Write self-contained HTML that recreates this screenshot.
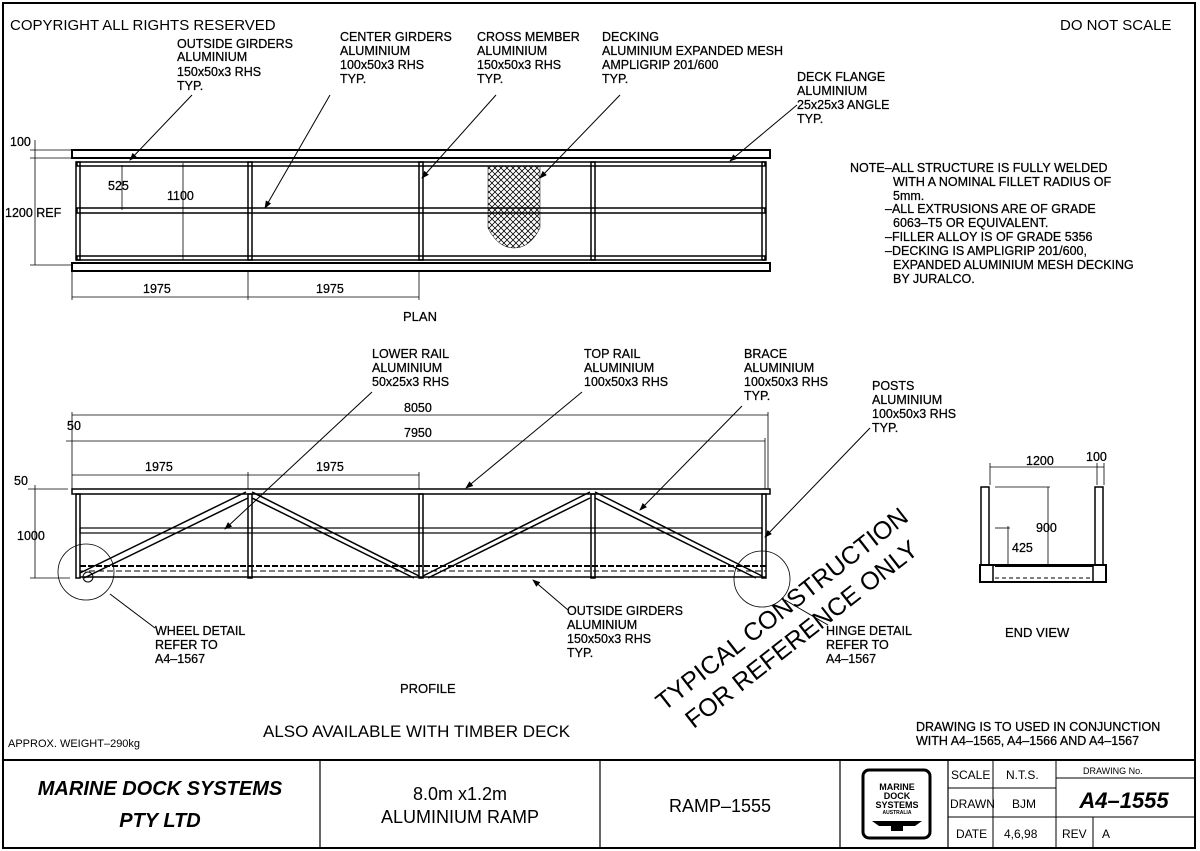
<!DOCTYPE html>
<html><head><meta charset="utf-8"><style>
html,body{margin:0;padding:0;background:#fff}
svg{display:block}
text{font-family:"Liberation Sans",sans-serif;fill:#000}
.t{font-size:12.5px;stroke:#000;stroke-width:0.25}
</style></head><body>
<svg width="1200" height="851" viewBox="0 0 1200 851" xmlns="http://www.w3.org/2000/svg">
<defs>
<marker id="a" markerWidth="8" markerHeight="6" refX="7" refY="3" orient="auto" markerUnits="userSpaceOnUse"><path d="M0,0 L8,3 L0,6z" fill="#000"/></marker>
<pattern id="mesh" width="6" height="6" patternUnits="userSpaceOnUse"><path d="M0,3 L3,0 L6,3 L3,6z" fill="none" stroke="#000" stroke-width="0.8"/></pattern>
</defs>
<rect x="3" y="3" width="1192" height="845" fill="none" stroke="#000" stroke-width="2"/>

<text x="10" y="30" font-size="15">COPYRIGHT ALL RIGHTS RESERVED</text>
<text x="1060" y="30" font-size="15">DO NOT SCALE</text>

<g class="t">
<text x="177" y="48">OUTSIDE GIRDERS</text><text x="177" y="61">ALUMINIUM</text><text x="177" y="76">150x50x3 RHS</text><text x="177" y="90">TYP.</text>
<text x="340" y="41">CENTER GIRDERS</text><text x="340" y="55">ALUMINIUM</text><text x="340" y="69">100x50x3 RHS</text><text x="340" y="83">TYP.</text>
<text x="477" y="41">CROSS MEMBER</text><text x="477" y="55">ALUMINIUM</text><text x="477" y="69">150x50x3 RHS</text><text x="477" y="83">TYP.</text>
<text x="602" y="41">DECKING</text><text x="602" y="55">ALUMINIUM EXPANDED MESH</text><text x="602" y="69">AMPLIGRIP 201/600</text><text x="602" y="83">TYP.</text>
<text x="797" y="81">DECK FLANGE</text><text x="797" y="95">ALUMINIUM</text><text x="797" y="109">25x25x3 ANGLE</text><text x="797" y="123">TYP.</text>
</g>
<g stroke="#000" stroke-width="1" fill="none" marker-end="url(#a)">
<line x1="192" y1="95" x2="130" y2="160"/>
<line x1="330" y1="95" x2="265" y2="208"/>
<line x1="496" y1="95" x2="422" y2="178"/>
<line x1="620" y1="95" x2="540" y2="178"/>
<line x1="797" y1="105" x2="730" y2="161"/>
</g>

<!-- PLAN -->
<g stroke="#000" fill="none">
<rect x="72" y="150" width="698" height="8" stroke-width="2"/>
<rect x="72" y="263" width="698" height="8" stroke-width="2"/>
<rect x="77" y="162" width="688" height="4" stroke-width="1.5"/>
<rect x="77" y="208" width="688" height="5" stroke-width="1.5"/>
<rect x="77" y="256" width="688" height="4" stroke-width="1.5"/>
<rect x="76" y="162" width="4" height="98" stroke-width="1.5"/>
<rect x="248" y="162" width="4" height="98" stroke-width="1.5"/>
<rect x="419" y="162" width="4" height="98" stroke-width="1.5"/>
<rect x="591" y="162" width="4" height="98" stroke-width="1.5"/>
<rect x="762" y="162" width="4" height="98" stroke-width="1.5"/>
</g>
<path d="M488,166 L540,166 L540,228 Q530,248 514,248 Q498,248 488,228 Z" fill="url(#mesh)" stroke="#000" stroke-width="0.5"/>
<g stroke="#000" stroke-width="0.8" fill="none">
<line x1="30" y1="150" x2="72" y2="150"/><line x1="30" y1="158" x2="72" y2="158"/><line x1="30" y1="265" x2="72" y2="265"/>
<line x1="35" y1="140" x2="35" y2="265"/>
<line x1="122" y1="165" x2="122" y2="210"/>
<line x1="183" y1="163" x2="183" y2="260"/>
<line x1="72" y1="272" x2="72" y2="300"/><line x1="248" y1="272" x2="248" y2="300"/><line x1="419" y1="272" x2="419" y2="300"/>
<line x1="72" y1="297" x2="419" y2="297"/>
</g>
<g class="t">
<text x="10" y="146">100</text>
<text x="5" y="217">1200 REF</text>
<text x="108" y="190">525</text>
<text x="167" y="200">1100</text>
<text x="143" y="293">1975</text>
<text x="316" y="293">1975</text>
<text x="403" y="321" font-size="13">PLAN</text>
</g>

<g class="t">
<text x="850" y="172">NOTE–ALL STRUCTURE IS FULLY WELDED</text>
<text x="893" y="186">WITH A NOMINAL FILLET RADIUS OF</text>
<text x="893" y="200">5mm.</text>
<text x="885" y="213">–ALL EXTRUSIONS ARE OF GRADE</text>
<text x="893" y="227">6063–T5 OR EQUIVALENT.</text>
<text x="885" y="241">–FILLER ALLOY IS OF GRADE 5356</text>
<text x="885" y="255">–DECKING IS AMPLIGRIP 201/600,</text>
<text x="893" y="269">EXPANDED ALUMINIUM MESH DECKING</text>
<text x="893" y="283">BY JURALCO.</text>
</g>

<g class="t">
<text x="372" y="358">LOWER RAIL</text><text x="372" y="372">ALUMINIUM</text><text x="372" y="386">50x25x3 RHS</text>
<text x="584" y="358">TOP RAIL</text><text x="584" y="372">ALUMINIUM</text><text x="584" y="386">100x50x3 RHS</text>
<text x="744" y="358">BRACE</text><text x="744" y="372">ALUMINIUM</text><text x="744" y="386">100x50x3 RHS</text><text x="744" y="400">TYP.</text>
<text x="872" y="390">POSTS</text><text x="872" y="404">ALUMINIUM</text><text x="872" y="418">100x50x3 RHS</text><text x="872" y="432">TYP.</text>
<text x="567" y="615">OUTSIDE GIRDERS</text><text x="567" y="629">ALUMINIUM</text><text x="567" y="643">150x50x3 RHS</text><text x="567" y="657">TYP.</text>
<text x="155" y="635">WHEEL DETAIL</text><text x="155" y="649">REFER TO</text><text x="155" y="663">A4–1567</text>
<text x="826" y="635">HINGE DETAIL</text><text x="826" y="649">REFER TO</text><text x="826" y="663">A4–1567</text>
<text x="400" y="693" font-size="13">PROFILE</text>
<text x="1005" y="637" font-size="13">END VIEW</text>
</g>
<g stroke="#000" stroke-width="1" fill="none" marker-end="url(#a)">
<line x1="372" y1="392" x2="225" y2="529"/>
<line x1="582" y1="392" x2="466" y2="488"/>
<line x1="742" y1="406" x2="640" y2="510"/>
<line x1="870" y1="428" x2="765" y2="537"/>
</g>
<g stroke="#000" stroke-width="1" fill="none">
<line x1="568" y1="610" x2="533" y2="580" marker-end="url(#a)"/>
<line x1="155" y1="628" x2="110" y2="594"/>
<line x1="828" y1="625" x2="785" y2="600"/>
</g>

<!-- PROFILE -->
<g stroke="#000" fill="none">
<rect x="72" y="489" width="698" height="5" stroke-width="1.5"/>
<rect x="76" y="494" width="4" height="84" stroke-width="1.5"/>
<rect x="248" y="494" width="4" height="84" stroke-width="1.5"/>
<rect x="419" y="494" width="4" height="84" stroke-width="1.5"/>
<rect x="591" y="494" width="4" height="84" stroke-width="1.5"/>
<rect x="762" y="494" width="4" height="84" stroke-width="1.5"/>
<rect x="80" y="528" width="682" height="5" stroke-width="1.2"/>
<line x1="80" y1="566" x2="766" y2="566" stroke-width="2" stroke-dasharray="6,2"/>
<line x1="80" y1="571" x2="766" y2="571" stroke-width="1" stroke-dasharray="6,3"/>
<line x1="80" y1="577" x2="766" y2="577" stroke-width="1.5"/>
<path d="M80,573 L246,492 M84,578 L248,498" stroke-width="1.5"/>
<path d="M252,492 L419,576 M252,498 L414,578" stroke-width="1.5"/>
<path d="M423,576 L590,492 M428,578 L590,498" stroke-width="1.5"/>
<path d="M595,492 L762,576 M595,498 L756,578" stroke-width="1.5"/>
<circle cx="86" cy="572" r="28" stroke-width="0.8"/>
<circle cx="88" cy="577" r="5" stroke-width="1"/>
<circle cx="762" cy="579" r="28" stroke-width="0.8"/>
</g>
<g stroke="#000" stroke-width="0.8" fill="none">
<line x1="72" y1="412" x2="72" y2="489"/><line x1="768" y1="412" x2="768" y2="489"/>
<line x1="72" y1="415" x2="768" y2="415"/>
<line x1="66" y1="441" x2="765" y2="441"/><line x1="765" y1="438" x2="765" y2="489"/>
<line x1="72" y1="475" x2="419" y2="475"/><line x1="248" y1="472" x2="248" y2="489"/><line x1="419" y1="472" x2="419" y2="489"/>
<line x1="28" y1="489" x2="68" y2="489"/>
<line x1="30" y1="578" x2="70" y2="578"/>
<line x1="35" y1="485" x2="35" y2="578"/>
</g>
<g class="t">
<text x="404" y="412">8050</text>
<text x="404" y="437">7950</text>
<text x="67" y="430">50</text>
<text x="145" y="471">1975</text>
<text x="316" y="471">1975</text>
<text x="14" y="485">50</text>
<text x="17" y="540">1000</text>
</g>

<!-- END VIEW -->
<g stroke="#000" fill="none">
<rect x="981" y="487" width="8" height="78" stroke-width="1.5"/>
<rect x="1095" y="487" width="8" height="78" stroke-width="1.5"/>
<rect x="980" y="565" width="126" height="17" stroke-width="2"/>
<line x1="995" y1="566" x2="1093" y2="566" stroke-width="2"/>
<line x1="995" y1="578" x2="1093" y2="578" stroke-width="1" stroke-dasharray="4,3"/>
<line x1="993" y1="566" x2="993" y2="582" stroke-width="1.5"/>
<line x1="1093" y1="566" x2="1093" y2="582" stroke-width="1.5"/>
</g>
<g stroke="#000" stroke-width="0.8" fill="none">
<line x1="990" y1="467" x2="1104" y2="467"/><line x1="990" y1="463" x2="990" y2="485"/><line x1="1097" y1="463" x2="1097" y2="485"/><line x1="1104" y1="463" x2="1104" y2="485"/>
<line x1="995" y1="487" x2="1050" y2="487"/><line x1="1048" y1="487" x2="1048" y2="565"/>
<line x1="995" y1="528" x2="1010" y2="528"/><line x1="1008" y1="526" x2="1008" y2="565"/>
</g>
<g class="t">
<text x="1026" y="465">1200</text>
<text x="1086" y="461">100</text>
<text x="1036" y="532">900</text>
<text x="1012" y="552">425</text>
</g>

<text transform="translate(792,622) rotate(-38)" font-size="25" text-anchor="middle"><tspan x="0" y="-8">TYPICAL CONSTRUCTION</tspan><tspan x="0" y="24">FOR REFERENCE ONLY</tspan></text>

<text x="8" y="747" font-size="11">APPROX. WEIGHT–290kg</text>
<text x="263" y="737" font-size="17">ALSO AVAILABLE WITH TIMBER DECK</text>
<text x="916" y="731" class="t">DRAWING IS TO USED IN CONJUNCTION</text>
<text x="916" y="745" class="t">WITH A4–1565, A4–1566 AND A4–1567</text>

<!-- TITLE BLOCK -->
<g stroke="#000" fill="none">
<line x1="3" y1="760" x2="1195" y2="760" stroke-width="2"/>
<line x1="320" y1="760" x2="320" y2="848" stroke-width="1.2"/>
<line x1="600" y1="760" x2="600" y2="848" stroke-width="1.2"/>
<line x1="840" y1="760" x2="840" y2="848" stroke-width="1.2"/>
<line x1="948" y1="760" x2="948" y2="848" stroke-width="1.2"/>
<line x1="993" y1="760" x2="993" y2="848" stroke-width="1"/>
<line x1="1056" y1="760" x2="1056" y2="848" stroke-width="1"/>
<line x1="1093" y1="817" x2="1093" y2="848" stroke-width="1"/>
<line x1="948" y1="788" x2="1056" y2="788" stroke-width="1"/>
<line x1="948" y1="817" x2="1195" y2="817" stroke-width="1"/>
<line x1="1056" y1="778" x2="1195" y2="778" stroke-width="1"/>
<rect x="863" y="770" width="67" height="68" rx="6" stroke-width="3"/>
</g>
<g>
<text x="897" y="790" font-size="9" font-weight="bold" text-anchor="middle">MARINE</text>
<text x="897" y="799" font-size="9" font-weight="bold" text-anchor="middle">DOCK</text>
<text x="897" y="808" font-size="9" font-weight="bold" text-anchor="middle">SYSTEMS</text>
<text x="897" y="814" font-size="5" font-weight="bold" text-anchor="middle">AUSTRALIA</text>
<path d="M872,821 L922,821 L915,826 L903,826 L903,831 L891,831 L891,826 L879,826 Z" fill="#000"/>
</g>
<text x="160" y="795" font-size="20" font-weight="bold" font-style="italic" text-anchor="middle">MARINE DOCK SYSTEMS</text>
<text x="160" y="827" font-size="20" font-weight="bold" font-style="italic" text-anchor="middle">PTY LTD</text>
<text x="460" y="800" font-size="18" text-anchor="middle">8.0m  x1.2m</text>
<text x="460" y="823" font-size="18" text-anchor="middle">ALUMINIUM  RAMP</text>
<text x="720" y="812" font-size="18" text-anchor="middle">RAMP–1555</text>
<g font-size="12">
<text x="951" y="779">SCALE</text><text x="1006" y="779">N.T.S.</text>
<text x="950" y="808">DRAWN</text><text x="1012" y="808">BJM</text>
<text x="956" y="838">DATE</text><text x="1004" y="838">4,6,98</text>
<text x="1062" y="838">REV</text><text x="1102" y="838">A</text>
</g>
<text x="1083" y="774" font-size="9">DRAWING No.</text>
<text x="1124" y="808" font-size="22" font-weight="bold" font-style="italic" text-anchor="middle">A4–1555</text>
</svg>
</body></html>
